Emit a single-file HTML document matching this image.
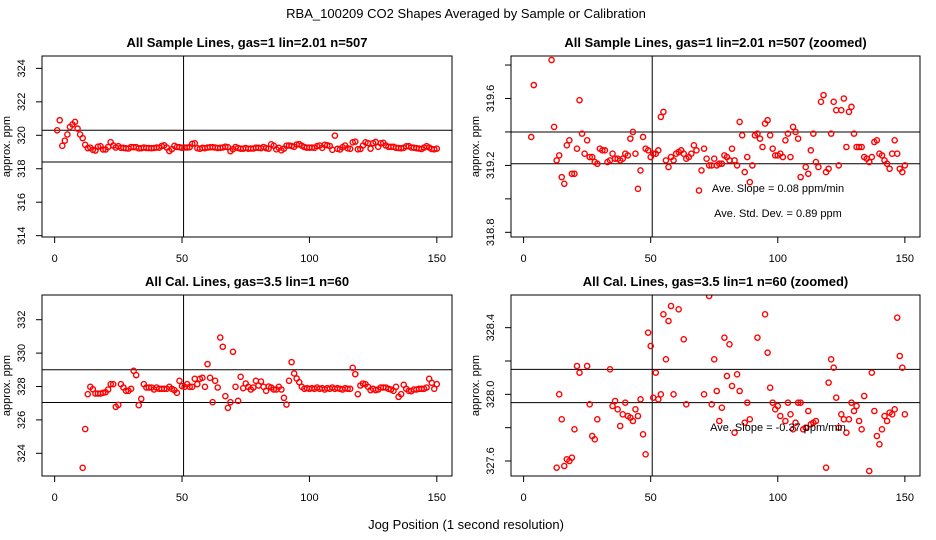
<!DOCTYPE html>
<html><head><meta charset="utf-8"><style>
body{margin:0;background:#fff;}
svg{display:block;font-family:"Liberation Sans",sans-serif;}
</style></head><body>
<svg id="c" width="936" height="540" viewBox="0 0 936 540">
<text x="466" y="18" text-anchor="middle" font-size="13">RBA_100209  CO2 Shapes Averaged by Sample or Calibration</text>
<text x="466" y="529" text-anchor="middle" font-size="13">Jog Position (1 second resolution)</text>
</svg>
<script>
// Sample lines data (x = 1..150)
const sampleY = [320.3,320.9,319.37,319.68,320.05,320.5,320.65,320.8,320.4,320.05,
319.83,319.43,319.23,319.26,319.13,319.09,319.32,319.35,319.15,319.15,
319.30,319.59,319.39,319.27,319.35,319.25,319.25,319.22,319.21,319.30,
319.29,319.29,319.22,319.23,319.27,319.24,319.24,319.23,319.24,319.27,
319.26,319.36,319.40,319.27,319.06,319.17,319.37,319.30,319.29,319.25,
319.27,319.27,319.29,319.49,319.52,319.23,319.19,319.25,319.23,319.27,
319.28,319.29,319.27,319.24,319.25,319.27,319.32,319.29,319.05,319.17,
319.30,319.24,319.20,319.20,319.24,319.20,319.21,319.21,319.26,319.25,
319.23,319.30,319.23,319.20,319.46,319.38,319.16,319.25,319.10,319.20,
319.38,319.39,319.36,319.31,319.45,319.47,319.38,319.30,319.26,319.26,
319.27,319.25,319.35,319.39,319.25,319.43,319.40,319.36,319.13,319.98,
319.19,319.15,319.29,319.39,319.22,319.19,319.58,319.62,319.16,319.18,
319.39,319.58,319.53,319.20,319.53,319.60,319.31,319.52,319.55,319.39,
319.31,319.31,319.31,319.25,319.24,319.22,319.25,319.34,319.35,319.27,
319.26,319.23,319.21,319.18,319.27,319.35,319.27,319.18,319.16,319.20];
// Cal lines (x = 11..150)
const calStart = 11;
const calY = [323.13,325.45,327.54,327.98,327.84,327.58,327.58,327.58,327.62,327.66,
327.82,328.14,328.14,326.78,326.9,328.14,327.94,327.74,327.74,327.86,
328.94,328.68,326.88,327.26,328.14,327.94,327.94,327.94,327.82,327.94,
327.86,327.86,327.86,327.86,327.98,327.86,327.78,327.62,328.34,328.02,
327.98,328.14,327.98,327.98,328.46,328.14,328.46,328.52,327.98,329.34,
328.52,327.06,328.34,327.94,330.93,330.38,327.42,326.72,327.06,330.08,
327.98,327.14,328.58,327.9,328.18,327.98,327.82,327.94,328.34,328.06,
328.3,327.98,327.74,328.0,327.94,327.82,327.82,327.98,327.82,327.32,
326.92,328.34,329.46,328.78,328.48,328.26,327.98,327.86,327.9,327.86,
327.9,327.86,327.94,327.86,327.9,327.82,327.9,327.86,327.94,327.86,
327.9,327.86,327.82,327.9,327.86,327.86,329.12,328.74,327.54,328.06,
328.18,328.14,327.98,327.78,327.86,327.78,327.82,327.94,327.94,327.94,
327.86,327.82,327.74,327.98,327.38,327.54,328.1,327.86,327.74,327.72,
327.82,327.82,327.86,327.86,327.86,327.94,328.46,328.22,327.86,328.14];
// Cal zoomed points
const calZX = [13,14,15,16,17,18,19,20,21,22,25,26,27,28,29,34,35,36,37,38,39,40,41,42,43,44,45,46,47,48,49,50,51,52,53,54,55,56,57,58,59,61,63,64,71,73,74,75,76,77,78,79,80,81,82,83,84,85,87,88,89,92,95,96,97,98,99,100,101,103,104,105,106,107,108,109,110,111,112,113,114,115,119,120,121,122,123,124,125,126,127,128,129,130,131,132,133,134,136,137,138,139,140,141,142,143,144,145,146,147,148,149,150];
const calZY = [327.56,328.0,327.85,327.57,327.61,327.6,327.62,327.79,328.17,328.13,328.17,327.94,327.75,327.73,327.85,328.15,327.93,327.96,327.91,327.81,327.88,327.95,327.87,327.86,327.84,327.91,327.87,327.97,327.76,327.64,328.37,328.29,327.98,328.13,327.97,328.0,328.48,328.21,328.44,328.53,328.0,328.51,328.33,327.94,328.0,328.59,327.94,328.21,328.02,327.84,327.92,328.34,328.11,328.3,328.05,327.77,328.12,328.02,327.83,327.95,327.85,328.34,328.48,328.25,328.04,327.95,327.91,327.93,327.87,327.84,327.95,327.88,327.79,327.83,327.95,327.95,327.79,327.8,327.9,327.82,327.83,327.84,327.56,328.07,328.21,328.16,327.98,327.8,327.88,327.85,327.77,327.85,327.95,327.9,327.93,327.84,327.79,327.99,327.54,328.13,327.9,327.75,327.7,327.79,327.87,327.84,327.89,327.88,327.91,328.46,328.23,328.16,327.88];
const xTicks = [0,50,100,150];

const NS="http://www.w3.org/2000/svg";
const svg=document.getElementById('c');
function el(t,a,p){const e=document.createElementNS(NS,t);for(const k in a)e.setAttribute(k,a[k]);(p||svg).appendChild(e);return e;}
let clipN=0;
function panel(o){
  const g=el('g',{});
  
  
  const sx=v=>o.x0+(v-(-4.96))/(155.96+4.96)*(o.x1-o.x0);
  const sy=v=>o.y1-(v-o.ymin)/(o.ymax-o.ymin)*(o.y1-o.y0);
  const t=el('text',{x:(o.x0+o.x1)/2,y:o.y0-9,'text-anchor':'middle','font-size':13,'font-weight':'bold'},g);
  t.textContent=o.title;
  
  
  const yt=el('text',{transform:`translate(${o.x0-32},${(o.y0+o.y1)/2}) rotate(-90)`,'text-anchor':'middle','font-size':11},g);
  yt.textContent='approx. ppm';
  
  
  const id='cl'+(clipN++);
  const cp=el('clipPath',{id},g);el('rect',{x:o.x0,y:o.y0,width:o.x1-o.x0,height:o.y1-o.y0},cp);
  xTicks.forEach(v=>{const x=sx(v);
    el('line',{x1:x,x2:x,y1:o.y1,y2:o.y1+6,stroke:'#000'},g);
    const tx=el('text',{x:x,y:o.y1+25,'text-anchor':'middle','font-size':11},g);tx.textContent=v;
    
    });
  o.yTicks.forEach((v,i)=>{const y=sy(v);
    el('line',{x1:o.x0,x2:o.x0-6,y1:y,y2:y,stroke:'#000'},g);
    if(o.yLab[i]){const ty=el('text',{transform:`translate(${o.x0-17},${y}) rotate(-90)`,'text-anchor':'middle','font-size':11},g);ty.textContent=o.yLab[i];
    
    }});
  const pg=el('g',{'clip-path':`url(#${id})`},g);
  o.hl.forEach(v=>el('line',{x1:o.x0,x2:o.x1,y1:sy(v),y2:sy(v),stroke:'#000'},pg));
  el('line',{x1:sx(50.6),x2:sx(50.6),y1:o.y0,y2:o.y1,stroke:'#000'},pg);
  o.xs.forEach((xv,i)=>{const c=el('circle',{cx:sx(xv),cy:sy(o.ys[i]),r:2.6,fill:'none',stroke:'#f00','stroke-width':1.4},pg);
    
    });
  (o.notes||[]).forEach(n=>{const tn=el('text',{x:n[0],y:n[1],'text-anchor':'middle','font-size':11},g);tn.textContent=n[2];
    
    });
  el('rect',{x:o.x0,y:o.y0,width:o.x1-o.x0,height:o.y1-o.y0,fill:'none',stroke:'#000'},g);
}
const sX=sampleY.map((v,i)=>i+1);
const cX=calY.map((v,i)=>i+calStart);
panel({name:'sample-panel',title:'All Sample Lines, gas=1 lin=2.01 n=507',x0:42,x1:452,y0:56,y1:237,ymin:313.92,ymax:324.74,
  yTicks:[314,316,318,320,322,324],yLab:['314','316','318','320','322','324'],hl:[320.3,318.4],xs:sX,ys:sampleY});
panel({name:'sample-zoomed-panel',title:'All Sample Lines, gas=1 lin=2.01 n=507 (zoomed)',x0:511,x1:920,y0:56,y1:237,ymin:318.772,ymax:319.854,
  yTicks:[318.8,319.0,319.2,319.4,319.6,319.8],yLab:['318.8','','319.2','','319.6',''],hl:[319.4,319.21],xs:sX,ys:sampleY,
  notes:[[778,192,'Ave. Slope =  0.08  ppm/min'],[778,217,'Ave. Std. Dev. =  0.89  ppm']]});
panel({name:'cal-panel',title:'All Cal. Lines, gas=3.5 lin=1 n=60',x0:42,x1:452,y0:295,y1:476,ymin:322.64,ymax:333.48,
  yTicks:[324,326,328,330,332],yLab:['324','326','328','330','332'],hl:[329.0,327.04],xs:cX,ys:calY});
panel({name:'cal-zoomed-panel',title:'All Cal. Lines, gas=3.5 lin=1 n=60 (zoomed)',x0:511,x1:920,y0:295,y1:476,ymin:327.51,ymax:328.596,
  yTicks:[327.6,327.8,328.0,328.2,328.4],yLab:['327.6','','328.0','','328.4'],hl:[328.15,327.95],xs:calZX,ys:calZY,
  notes:[[778,431,'Ave. Slope =  -0.37  ppm/min']]});
</script>
</body></html>
